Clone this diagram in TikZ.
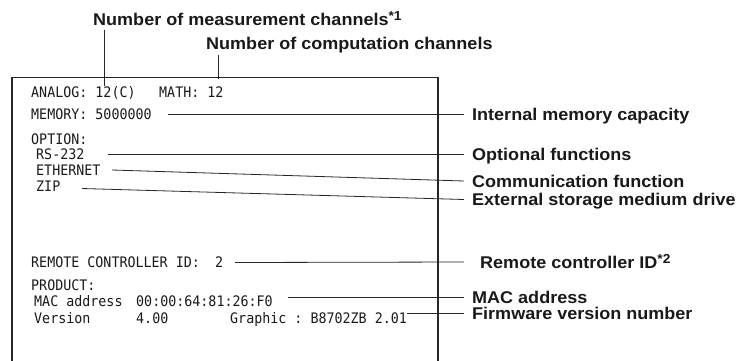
\documentclass[tikz,border=0pt]{standalone}
\usepackage{fontspec}
\newfontfamily\lblfont{Liberation Sans}[FakeStretch=1.06]
\newfontfamily\scrfont{DejaVu Sans Mono}[FakeStretch=0.92]
\newcommand{\supnum}[1]{\raisebox{5pt}{\fontsize{13}{13}\selectfont #1}}
\begin{document}
\frenchspacing
\begin{tikzpicture}[x=1pt,y=-1pt]
\tikzset{
  lbl/.style={anchor=west, inner sep=0pt, text height=12pt, text depth=0pt,
    font=\lblfont\bfseries\fontsize{17}{20}\selectfont, text=black!90},
  scr/.style={anchor=west, inner sep=0pt, text height=10.5pt, text depth=0pt,
    font=\scrfont\fontsize{14.5}{16}\selectfont, text=black!90},
  lead/.style={line width=0.8pt, draw=black!85},
  frame/.style={line width=1.1pt, draw=black!85}
}
\useasboundingbox (0,0) rectangle (747,360);

% screen frame (open at the bottom)
\coordinate (fbl) at (12,361);
\coordinate (ftl) at (12,77.5);
\coordinate (ftr) at (438,77.5);
\coordinate (fbr) at (438,361);
\draw[frame] (fbl) -- (ftl) -- (ftr) -- (fbr);

% screen texts
\node[scr] (analog) at (31,92.5) {ANALOG: 12(C)};
\node[scr] (math) at (159,92.5) {MATH: 12};
\node[scr] (mem) at (31,114.5) {MEMORY: 5000000};
\node[scr] (opt) at (31,139) {OPTION:};
\node[scr] (rs) at (36,154.5) {RS-232};
\node[scr] (eth) at (36,170) {ETHERNET};
\node[scr] (zip) at (36,186) {ZIP};
\node[scr] (remote) at (31,262.5) {REMOTE CONTROLLER ID:};
\node[scr] (rid) at (215,262.5) {2};
\node[scr] (prod) at (31,285) {PRODUCT:};
\node[scr] (mac) at (34,301.5) {MAC address};
\node[scr] (macv) at (136,301.5) {00:00:64:81:26:F0};
\node[scr] (ver) at (34,318) {Version};
\node[scr] (verv) at (136,318) {4.00};
\node[scr] (graph) at (230,318) {Graphic : B8702ZB 2.01};

% labels
\node[lbl] (lmeas) at (93,19) {Number of measurement channels\supnum{*1}};
\node[lbl] (lcomp) at (206,43) {Number of computation channels};
\node[lbl] (lmem) at (472,114) {Internal memory capacity};
\node[lbl] (lopt) at (472,154) {Optional functions};
\node[lbl] (lcom) at (472,181) {Communication function};
\node[lbl] (lext) at (472,199.5) {External storage medium drive};
\node[lbl] (lrem) at (480,262) {Remote controller ID\supnum{*2}};
\node[lbl] (lmac) at (472,297) {MAC address};
\node[lbl] (lfw) at (472,313.5) {Firmware version number};

% connector start points
\coordinate (smeas) at (104,30);
\coordinate (emeas) at (104,86);
\coordinate (scomp) at (218,55);
\coordinate (ecomp) at (218,79);
\coordinate (smem) at (168,114);
\coordinate (srs) at (108,154);
\coordinate (seth) at (112,170);
\coordinate (szip) at (82,188.5);
\coordinate (srem) at (235,262.5);
\coordinate (smac) at (288,297);
\coordinate (sfw) at (407,313.5);

% connectors
\draw[lead] (smeas) -- (emeas);
\draw[lead] (scomp) -- (ecomp);
\draw[lead] (smem) -- ([xshift=-8pt]lmem.west);
\draw[lead] (srs) -- ([xshift=-8pt]lopt.west);
\draw[lead] (seth) -- ([xshift=-8pt]lcom.west);
\draw[lead] (szip) -- ([xshift=-8pt]lext.west);
\draw[lead] (srem) -- ([xshift=-16pt]lrem.west);
\draw[lead] (smac) -- ([xshift=-8pt]lmac.west);
\draw[lead] (sfw) -- ([xshift=-8pt]lfw.west);
\end{tikzpicture}
\end{document}
